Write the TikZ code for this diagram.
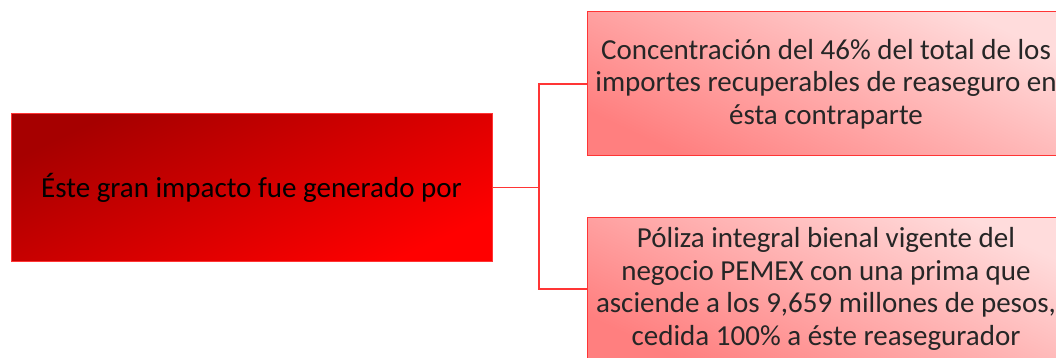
\documentclass[tikz,border=0pt]{standalone}
\usepackage{fontspec}
\setmainfont{Carlito}
\definecolor{darkred}{HTML}{A60000}
\definecolor{brightred}{HTML}{FF0000}
\definecolor{lightpink}{HTML}{FFDCDC}
\definecolor{salmon}{HTML}{FF7F7F}
\definecolor{edgered}{HTML}{FF3535}
\begin{document}
\begin{tikzpicture}[x=1pt,y=-1pt,
  mainbox/.style={rectangle, draw=edgered, line width=1pt, top color=darkred, bottom color=brightred, shading angle=25, minimum width=481pt, minimum height=147pt, inner sep=0pt, font=\fontsize{29}{32.5}\selectfont, text=black},
  subbox/.style={rectangle, draw=edgered, line width=1pt, top color=lightpink, bottom color=salmon, shading angle=-25, minimum width=478pt, minimum height=144pt, inner sep=0pt, align=center, font=\fontsize{29}{32.5}\selectfont, text=black!85},
  link/.style={draw=edgered, line width=1.2pt}]
\useasboundingbox (0,0) rectangle (1056,358);
\clip (0,0) rectangle (1056,358);
\node[mainbox] (main) at (251.5,187.5) {Éste gran impacto fue generado por};
\node[subbox] (top) at (826,84) {Concentración del 46\% del total de los\\importes recuperables de reaseguro en\\ésta contraparte};
\node[subbox] (bot) at (826,289) {Póliza integral bienal vigente del\\negocio PEMEX con una prima que\\asciende a los 9,659 millones de pesos,\\cedida 100\% a éste reasegurador};
\coordinate (j) at (539,187.5);
\draw[link] (main.east) -- (j);
\draw[link] (j) |- (top.west);
\draw[link] (j) |- (bot.west);
\end{tikzpicture}
\end{document}
